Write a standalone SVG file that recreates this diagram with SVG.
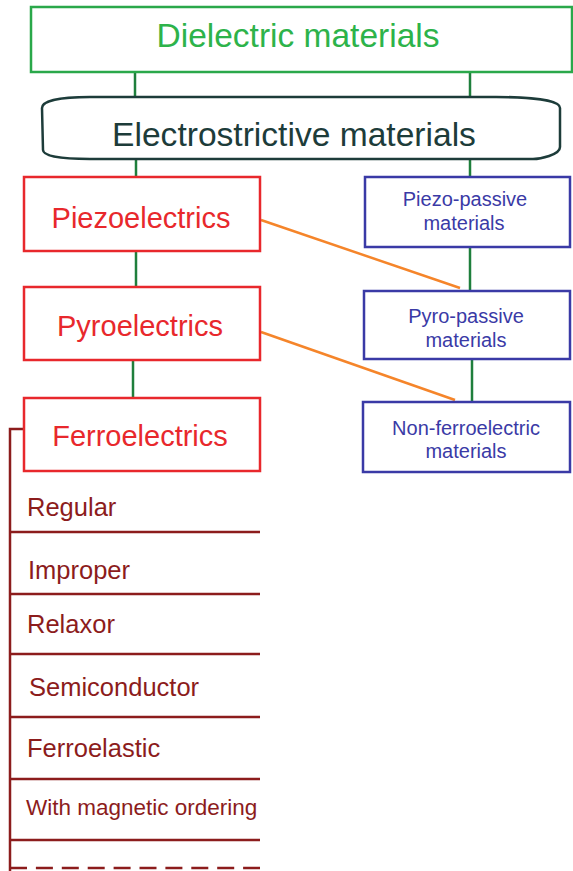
<svg xmlns="http://www.w3.org/2000/svg" width="573" height="871" viewBox="0 0 573 871">
<style>
text{font-family:"Liberation Sans",Arial,sans-serif}
.box{fill:#fff;stroke-width:2.5}
.g{stroke:#2aa84a}
.r{stroke:#e8282c}
.b{stroke:#3a3aa6}
.tr{fill:#e8282c;font-size:29px;text-anchor:middle}
.tb{fill:#3a3aa6;font-size:20px;text-anchor:middle}
.ti{fill:#8c1c1c;font-size:25.5px}
.ts{font-size:22.5px}
.cg{stroke:#1f7f3c;stroke-width:2.5;fill:none}
.co{stroke:#f5852a;stroke-width:2.5;fill:none}
.cd{stroke:#8c1c1c;stroke-width:2.5;fill:none}
</style>
<rect width="573" height="871" fill="#fff"/>
<g id="connectors">
<line class="cg" x1="135" y1="72" x2="135" y2="98"/>
<line class="cg" x1="470" y1="72" x2="470" y2="98"/>
<line class="cg" x1="136" y1="159" x2="136" y2="177"/>
<line class="cg" x1="470" y1="159" x2="470" y2="177"/>
<line class="cg" x1="136" y1="251" x2="136" y2="287"/>
<line class="cg" x1="133" y1="360" x2="133" y2="398"/>
<line class="cg" x1="470" y1="247" x2="470" y2="291"/>
<line class="cg" x1="472" y1="359" x2="472" y2="402"/>
<line class="co" x1="261" y1="220" x2="460" y2="288"/>
<line class="co" x1="261" y1="332" x2="455" y2="400"/>
<polyline class="cd" points="24,429 10,429 10,871"/>
<line class="cd" x1="10" y1="532" x2="260" y2="532"/>
<line class="cd" x1="10" y1="594" x2="260" y2="594"/>
<line class="cd" x1="10" y1="654" x2="260" y2="654"/>
<line class="cd" x1="10" y1="717" x2="260" y2="717"/>
<line class="cd" x1="10" y1="779" x2="260" y2="779"/>
<line class="cd" x1="10" y1="840" x2="260" y2="840"/>
<line class="cd" x1="10" y1="868" x2="260" y2="868" stroke-dasharray="17 8.9"/>
</g>
<g id="dielectric">
<rect class="box g" x="31" y="7" width="541" height="65"/>
<text x="298" y="47" fill="#2db34a" font-size="33.5" text-anchor="middle">Dielectric materials</text>
</g>
<g id="electrostrictive">
<path d="M90,97 L496,97 C530,97 560,100 560,108 L560,147 C560,155 540,159 533,159 L90,159 C60,159 43,156 43,150 L42,108 C42,101 60,97 90,97 Z" fill="#fff" stroke="#1d3c3a" stroke-width="2.5"/>
<text x="294" y="146" fill="#1d3c3a" font-size="33.6" text-anchor="middle">Electrostrictive materials</text>
</g>
<g id="piezoelectrics">
<rect class="box r" x="24" y="177" width="236" height="74"/>
<text class="tr" x="141" y="228">Piezoelectrics</text>
</g>
<g id="pyroelectrics">
<rect class="box r" x="24" y="287" width="236" height="73"/>
<text class="tr" x="140" y="336">Pyroelectrics</text>
</g>
<g id="ferroelectrics">
<rect class="box r" x="24" y="398" width="236" height="73"/>
<text class="tr" x="140" y="446">Ferroelectrics</text>
</g>
<g id="piezo-passive">
<rect class="box b" x="365" y="177" width="205" height="70"/>
<text class="tb" x="465" y="206">Piezo-passive</text>
<text class="tb" x="464" y="230">materials</text>
</g>
<g id="pyro-passive">
<rect class="box b" x="364" y="291" width="206" height="68"/>
<text class="tb" x="466" y="323">Pyro-passive</text>
<text class="tb" x="466" y="347">materials</text>
</g>
<g id="non-ferroelectric">
<rect class="box b" x="363" y="402" width="207" height="70"/>
<text class="tb" x="466" y="435">Non-ferroelectric</text>
<text class="tb" x="466" y="458">materials</text>
</g>
<g id="regular"><text class="ti" x="27" y="516">Regular</text></g>
<g id="improper"><text class="ti" x="28" y="579">Improper</text></g>
<g id="relaxor"><text class="ti" x="27" y="633">Relaxor</text></g>
<g id="semiconductor"><text class="ti" x="29" y="696">Semiconductor</text></g>
<g id="ferroelastic"><text class="ti" x="27" y="757">Ferroelastic</text></g>
<g id="magnetic"><text class="ti ts" x="26" y="815">With magnetic ordering</text></g>
</svg>
